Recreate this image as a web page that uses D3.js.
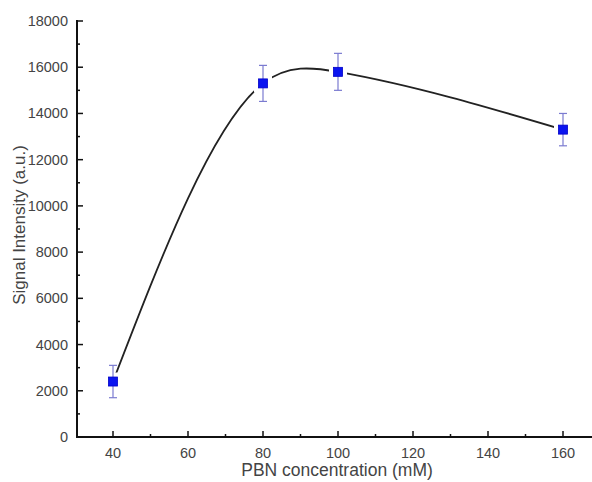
<!DOCTYPE html>
<html><head><meta charset="utf-8">
<script src="https://cdn.jsdelivr.net/npm/d3@7"></script>
<style>body{margin:0;background:#fff}svg{display:block}</style>
</head><body>
<script>
const conc = [40, 80, 100, 160];
const signal = [2400, 15300, 15800, 13300];
const errs = [700, 780, 800, 700];
const xTicks = [40, 60, 80, 100, 120, 140, 160];
const yTicks = [0, 2000, 4000, 6000, 8000, 10000, 12000, 14000, 16000, 18000];

const W = 592, H = 482;
const svg = d3.select("body").append("svg").attr("width", W).attr("height", H);
const x = d3.scaleLinear().domain([40, 160]).range([113, 563]);
const y = d3.scaleLinear().domain([0, 18000]).range([437, 21]);
const x0 = 77, x1 = 592;
const font = "Liberation Sans, Arial, sans-serif";
const txt = "#444";

// Custom D3 curve: natural cubic spline with y as a function of x
function curveSplineX(context) {
  let pts;
  return {
    areaStart() {}, areaEnd() {},
    lineStart() { pts = []; },
    point(px, py) { pts.push([+px, +py]); },
    lineEnd() {
      const n = pts.length;
      if (!n) return;
      context.moveTo(pts[0][0], pts[0][1]);
      if (n < 3) { for (let i = 1; i < n; i++) context.lineTo(pts[i][0], pts[i][1]); return; }
      const h = [], M = new Array(n).fill(0);
      for (let i = 0; i < n - 1; i++) h.push(pts[i + 1][0] - pts[i][0]);
      // tridiagonal for interior second derivatives
      const a = [], b = [], c = [], r = [];
      for (let i = 1; i < n - 1; i++) {
        a.push(h[i - 1]); b.push(2 * (h[i - 1] + h[i])); c.push(h[i]);
        r.push(6 * ((pts[i + 1][1] - pts[i][1]) / h[i] - (pts[i][1] - pts[i - 1][1]) / h[i - 1]));
      }
      const m = r.length;
      for (let i = 1; i < m; i++) {
        const w = a[i] / b[i - 1];
        b[i] -= w * c[i - 1]; r[i] -= w * r[i - 1];
      }
      const sol = new Array(m);
      sol[m - 1] = r[m - 1] / b[m - 1];
      for (let i = m - 2; i >= 0; i--) sol[i] = (r[i] - c[i] * sol[i + 1]) / b[i];
      for (let i = 0; i < m; i++) M[i + 1] = sol[i];
      for (let i = 0; i < n - 1; i++) {
        const hi = h[i], dy = (pts[i + 1][1] - pts[i][1]) / hi;
        const s0 = dy - hi * (2 * M[i] + M[i + 1]) / 6;
        const s1 = dy + hi * (M[i] + 2 * M[i + 1]) / 6;
        context.bezierCurveTo(
          pts[i][0] + hi / 3, pts[i][1] + s0 * hi / 3,
          pts[i + 1][0] - hi / 3, pts[i + 1][1] - s1 * hi / 3,
          pts[i + 1][0], pts[i + 1][1]);
      }
    }
  };
}

const data = conc.map((c, i) => ({c, v: signal[i], e: errs[i]}));

// curve
svg.append("path").datum(data)
  .attr("d", d3.line().x(d => x(d.c)).y(d => y(d.v)).curve(curveSplineX))
  .attr("fill", "none").attr("stroke", "#222").attr("stroke-width", 1.8);

// gaps around markers
svg.selectAll(".gap").data(data).join("rect")
  .attr("x", d => x(d.c) - 9).attr("y", d => y(d.v) - 9)
  .attr("width", 18).attr("height", 18).attr("fill", "#fff");

// error bars
const eb = svg.append("g").attr("stroke", "#7b7bd0").attr("stroke-width", 1.2);
data.forEach(d => {
  eb.append("line").attr("x1", x(d.c)).attr("x2", x(d.c)).attr("y1", y(d.v + d.e)).attr("y2", y(d.v - d.e));
  [d.v + d.e, d.v - d.e].forEach(v => eb.append("line").attr("x1", x(d.c) - 4).attr("x2", x(d.c) + 4).attr("y1", y(v)).attr("y2", y(v)));
});

// markers
svg.selectAll(".m").data(data).join("rect")
  .attr("x", d => x(d.c) - 4.5).attr("y", d => y(d.v) - 4.5)
  .attr("width", 9).attr("height", 9).attr("fill", "#0a14f0").attr("stroke", "#0000c8").attr("stroke-width", 0.8);

// axes lines
svg.append("line").attr("x1", x0).attr("x2", x1).attr("y1", 437).attr("y2", 437).attr("stroke", "#111").attr("stroke-width", 2);
svg.append("line").attr("x1", x0).attr("x2", x0).attr("y1", 20).attr("y2", 438).attr("stroke", "#111").attr("stroke-width", 2);

// y ticks
yTicks.forEach(t => {
  svg.append("line").attr("x1", x0).attr("x2", x0 + 6).attr("y1", y(t)).attr("y2", y(t)).attr("stroke", "#111").attr("stroke-width", 1.5);
  if (t < 18000) svg.append("line").attr("x1", x0).attr("x2", x0 + 3).attr("y1", y(t + 1000)).attr("y2", y(t + 1000)).attr("stroke", "#111").attr("stroke-width", 1.5);
  svg.append("text").attr("x", 68).attr("y", y(t) + 5).attr("text-anchor", "end")
    .attr("font-family", font).attr("font-size", 14.5).attr("fill", txt).text(t);
});
// x ticks
xTicks.forEach(t => {
  svg.append("line").attr("x1", x(t)).attr("x2", x(t)).attr("y1", 437).attr("y2", 431).attr("stroke", "#111").attr("stroke-width", 1.5);
  if (t < 160) svg.append("line").attr("x1", x(t + 10)).attr("x2", x(t + 10)).attr("y1", 437).attr("y2", 434).attr("stroke", "#111").attr("stroke-width", 1.5);
  svg.append("text").attr("x", x(t)).attr("y", 458).attr("text-anchor", "middle")
    .attr("font-family", font).attr("font-size", 14.5).attr("fill", txt).text(t);
});

// labels
svg.append("text").attr("x", 337).attr("y", 476).attr("text-anchor", "middle")
  .attr("font-family", font).attr("font-size", 17.5).attr("fill", txt).text("PBN concentration (mM)");
svg.append("text").attr("transform", "translate(25,225) rotate(-90)").attr("text-anchor", "middle")
  .attr("font-family", font).attr("font-size", 17).attr("fill", txt).text("Signal Intensity (a.u.)");
</script>
</body></html>
